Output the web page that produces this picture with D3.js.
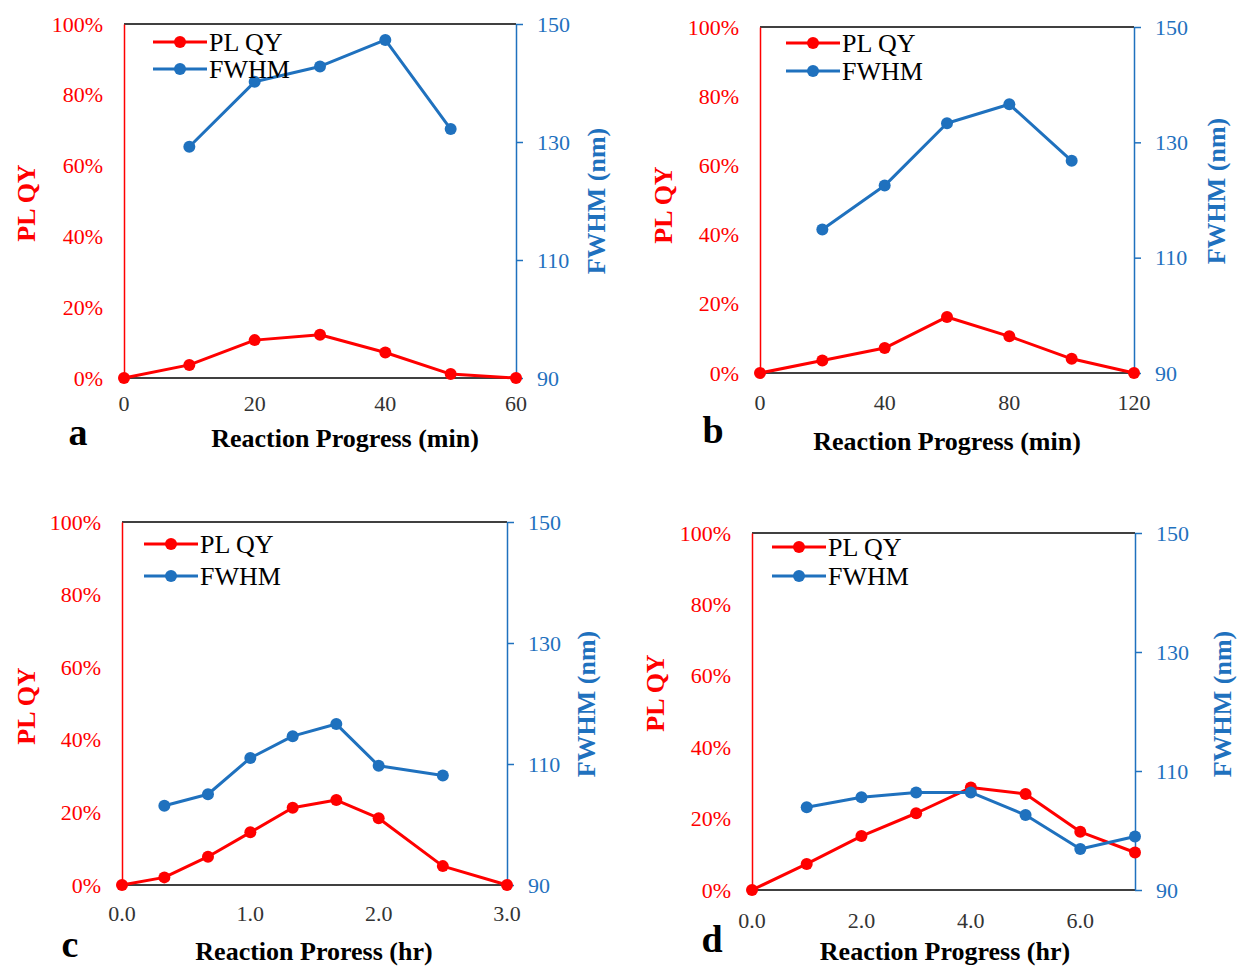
<!DOCTYPE html>
<html>
<head>
<meta charset="utf-8">
<script src="https://cdn.jsdelivr.net/npm/d3@7"></script>
<style>
body { margin: 0; background: #fff; }
svg { display: block; font-family: "Liberation Serif", "Times New Roman", serif; }
svg text { font-family: "Liberation Serif", "Times New Roman", serif; }
</style>
</head>
<body>
<svg id="chart" width="1238" height="966"></svg>
<script>
////////////////////////////////////////////////////////////////////////////////
// Data. PL QY in %, FWHM in nm, null = no point.
var xA    = [0, 10, 20, 30, 40, 50, 60];
var qyA   = [0, 3.7, 10.7, 12.2, 7.2, 1.1, 0];
var fwhmA = [null, 129.2, 140.2, 142.8, 147.3, 132.2, null];

var xB    = [0, 20, 40, 60, 80, 100, 120];
var qyB   = [0, 3.6, 7.2, 16.2, 10.6, 4.1, 0];
var fwhmB = [null, 114.9, 122.5, 133.3, 136.6, 126.8, null];

var xC    = [0, 0.33, 0.67, 1.0, 1.33, 1.67, 2.0, 2.5, 3.0];
var qyC   = [0, 2.1, 7.8, 14.5, 21.3, 23.4, 18.4, 5.2, 0];
var fwhmC = [null, 103.1, 105.0, 111.0, 114.6, 116.6, 109.7, 108.1, null];

var xD    = [0, 1, 2, 3, 4, 5, 6, 7];
var qyD   = [0, 7.3, 15.1, 21.5, 28.7, 26.9, 16.3, 10.5];
var fwhmD = [null, 103.9, 105.6, 106.4, 106.4, 102.6, 96.9, 99.0];

var xTicksA = [0, 20, 40, 60];
var xTicksB = [0, 40, 80, 120];
var xTicksC = [0, 1, 2, 3];
var xTicksD = [0, 2, 4, 6];
var qyTicks = [0, 20, 40, 60, 80, 100];
var fwhmTicks = [90, 110, 130, 150];

var seriesNames = ['PL QY', 'FWHM'];

////////////////////////////////////////////////////////////////////////////////
// Styling
var RED = '#ff0000';
var BLUE = '#1f71be';
var SERIF = '"Liberation Serif", "Times New Roman", serif';
var svg = d3.select('#chart');

////////////////////////////////////////////////////////////////////////////////
// Layout for each panel (plot box, label spots, legend spot)
var panels = [
	{ x: xA, qy: qyA, fw: fwhmA, xMax: 60, xTicks: xTicksA, xFmt: d3.format('d'),
	  left: 124, right: 516, top: 24, bottom: 378, xLabOff: 33,
	  title: 'Reaction Progress (min)', titleX: 345, titleY: 447,
	  letter: 'a', letterX: 78, letterY: 445,
	  qyLabX: 26, qyLabY: 203, fwLabX: 596, fwLabY: 201,
	  legX: 153, legY: 42, legGap: 27 },
	{ x: xB, qy: qyB, fw: fwhmB, xMax: 120, xTicks: xTicksB, xFmt: d3.format('d'),
	  left: 760, right: 1134, top: 27, bottom: 373, xLabOff: 37,
	  title: 'Reaction Progress (min)', titleX: 947, titleY: 450,
	  letter: 'b', letterX: 713, letterY: 443,
	  qyLabX: 663, qyLabY: 205, fwLabX: 1216, fwLabY: 191,
	  legX: 786, legY: 43, legGap: 28 },
	{ x: xC, qy: qyC, fw: fwhmC, xMax: 3, xTicks: xTicksC, xFmt: d3.format('.1f'),
	  left: 122, right: 507, top: 522, bottom: 885, xLabOff: 36,
	  title: 'Reaction Proress (hr)', titleX: 314, titleY: 960,
	  letter: 'c', letterX: 70, letterY: 957,
	  qyLabX: 26, qyLabY: 706, fwLabX: 586, fwLabY: 704,
	  legX: 144, legY: 544, legGap: 32 },
	{ x: xD, qy: qyD, fw: fwhmD, xMax: 7, xTicks: xTicksD, xFmt: d3.format('.1f'),
	  left: 752, right: 1135, top: 533, bottom: 890, xLabOff: 38,
	  title: 'Reaction Progress (hr)', titleX: 945, titleY: 960,
	  letter: 'd', letterX: 712, letterY: 952,
	  qyLabX: 655, qyLabY: 693, fwLabX: 1222, fwLabY: 704,
	  legX: 772, legY: 547, legGap: 29 }
];

////////////////////////////////////////////////////////////////////////////////
// Draw one panel
function draw_panel(p) {
	var xx = d3.scaleLinear().domain([0, p.xMax]).range([p.left, p.right]);
	var yq = d3.scaleLinear().domain([0, 100]).range([p.bottom, p.top]);
	var yf = d3.scaleLinear().domain([90, 150]).range([p.bottom, p.top]);
	var g = svg.append('g');

	// top frame + bottom (x axis line) in black
	g.append('line').attr('x1', p.left).attr('x2', p.right)
		.attr('y1', p.top).attr('y2', p.top)
		.attr('stroke', '#000').attr('stroke-width', 1.3);
	g.append('line').attr('x1', p.left).attr('x2', p.right)
		.attr('y1', p.bottom).attr('y2', p.bottom)
		.attr('stroke', '#000').attr('stroke-width', 1.3);

	// x tick labels
	g.selectAll('.xt').data(p.xTicks).enter().append('text')
		.attr('x', function(d) { return xx(d); })
		.attr('y', p.bottom + p.xLabOff)
		.attr('text-anchor', 'middle')
		.attr('font-size', 22).attr('fill', '#333')
		.text(p.xFmt);

	// left axis (red)
	var la = g.append('g').attr('transform', 'translate(' + p.left + ',0)')
		.call(d3.axisLeft(yq).tickValues(qyTicks).tickSize(0).tickPadding(21)
			.tickFormat(function(d) { return d + '%'; }));
	la.attr('font-family', null).attr('font-size', null);
	la.select('.domain').attr('stroke', RED).attr('stroke-width', 1.5);
	la.selectAll('text').attr('fill', RED).style('font-size', '22px')
		.style('font-family', SERIF);

	// right axis (blue)
	var ra = g.append('g').attr('transform', 'translate(' + p.right + ',0)')
		.call(d3.axisRight(yf).tickValues(fwhmTicks).tickSizeInner(7).tickSizeOuter(0).tickPadding(14));
	ra.attr('font-family', null).attr('font-size', null);
	ra.select('.domain').attr('stroke', BLUE).attr('stroke-width', 1.5);
	ra.selectAll('line').attr('stroke', BLUE).attr('stroke-width', 1.5);
	ra.selectAll('text').attr('fill', BLUE).style('font-size', '22px')
		.style('font-family', SERIF);

	// lines
	var qyPts = p.x.map(function(v, i) { return [v, p.qy[i]]; });
	var fwPts = p.x.map(function(v, i) { return [v, p.fw[i]]; })
		.filter(function(d) { return d[1] != null; });

	var lineQ = d3.line().x(function(d) { return xx(d[0]); }).y(function(d) { return yq(d[1]); });
	var lineF = d3.line().x(function(d) { return xx(d[0]); }).y(function(d) { return yf(d[1]); });

	g.append('path').datum(qyPts).attr('d', lineQ)
		.attr('fill', 'none').attr('stroke', RED).attr('stroke-width', 3)
		.attr('stroke-linejoin', 'round');
	g.selectAll('.dq').data(qyPts).enter().append('circle')
		.attr('cx', function(d) { return xx(d[0]); })
		.attr('cy', function(d) { return yq(d[1]); })
		.attr('r', 6).attr('fill', RED);

	g.append('path').datum(fwPts).attr('d', lineF)
		.attr('fill', 'none').attr('stroke', BLUE).attr('stroke-width', 3)
		.attr('stroke-linejoin', 'round');
	g.selectAll('.df').data(fwPts).enter().append('circle')
		.attr('cx', function(d) { return xx(d[0]); })
		.attr('cy', function(d) { return yf(d[1]); })
		.attr('r', 6).attr('fill', BLUE);

	// legend
	[RED, BLUE].forEach(function(c, i) {
		var y = p.legY + i * p.legGap;
		g.append('line').attr('x1', p.legX).attr('x2', p.legX + 54)
			.attr('y1', y).attr('y2', y).attr('stroke', c).attr('stroke-width', 3);
		g.append('circle').attr('cx', p.legX + 27).attr('cy', y).attr('r', 6).attr('fill', c);
		g.append('text').attr('x', p.legX + 56).attr('y', y + 9)
			.attr('font-size', 26).attr('fill', '#000').text(seriesNames[i]);
	});

	// axis titles
	g.append('text').attr('x', p.titleX).attr('y', p.titleY)
		.attr('text-anchor', 'middle').attr('font-size', 26).attr('font-weight', 'bold')
		.attr('fill', '#000').text(p.title);
	g.append('text')
		.attr('transform', 'translate(' + p.qyLabX + ',' + p.qyLabY + ') rotate(-90)')
		.attr('text-anchor', 'middle').attr('dy', '0.35em')
		.attr('font-size', 26).attr('font-weight', 'bold').attr('fill', RED).text('PL QY');
	g.append('text')
		.attr('transform', 'translate(' + p.fwLabX + ',' + p.fwLabY + ') rotate(-90)')
		.attr('text-anchor', 'middle').attr('dy', '0.35em')
		.attr('font-size', 26).attr('font-weight', 'bold').attr('fill', BLUE).text('FWHM (nm)');

	// panel letter
	g.append('text').attr('x', p.letterX).attr('y', p.letterY)
		.attr('text-anchor', 'middle').attr('font-size', 38).attr('font-weight', 'bold')
		.attr('fill', '#000').text(p.letter);
}

panels.forEach(draw_panel);
</script>
</body>
</html>
